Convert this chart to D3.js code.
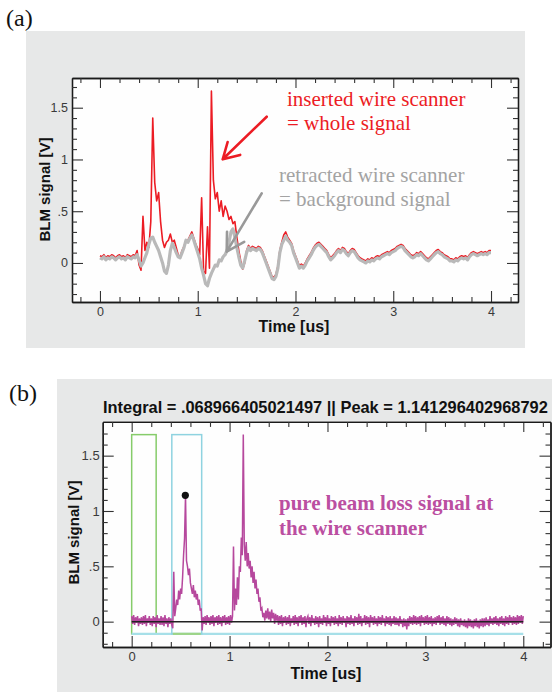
<!DOCTYPE html>
<html><head><meta charset="utf-8">
<script src="https://cdn.jsdelivr.net/npm/d3@7"></script>
<style>html,body{margin:0;padding:0;background:#fff;} svg{display:block;}</style>
</head><body><svg id="c" width="552" height="692"></svg>
<script>
// ---------------- DATA ----------------
// Panel (a): sampled every 0.02 us from 0 to 4 us
const aStep = 0.02;
const aWhole = [
 0.07,0.06,0.08,0.05,0.07, 0.06,0.08,0.07,0.05,0.07, 0.08,0.06,0.07,0.05,0.08, 0.07,0.06,0.08,0.07,0.12,
 -0.02,-0.07,0.45,0.12,0.2, 0.15,0.4,1.4,0.78,0.6, 0.68,0.4,0.22,0.15,0.2, 0.22,0.28,0.2,0.22,0.15,
 0.08,0.06,0.12,0.16,0.22, 0.22,0.26,0.3,0.24,0.18, 0.14,0.08,0.63,-0.08,-0.1, 0.35,-0.05,1.66,0.8,0.62,
 0.68,0.5,0.6,0.45,0.55, 0.5,0.42,0.45,0.38,0.4, 0.25,0.12,0.02,-0.06,0.0, 0.12,0.17,0.14,0.16,0.15,
 0.14,0.16,0.15,0.12,0.07, 0.02,-0.03,-0.08,-0.13,-0.14, -0.11,-0.03,0.12,0.2,0.27, 0.3,0.25,0.22,0.19,0.12,
 0.07,0.02,-0.03,-0.01,-0.03, 0.0,0.04,0.07,0.1,0.14, 0.17,0.19,0.2,0.18,0.16, 0.14,0.12,0.08,0.05,0.07,
 0.09,0.12,0.14,0.12,0.15, 0.14,0.11,0.09,0.12,0.14, 0.13,0.1,0.07,0.05,0.04, 0.03,0.02,0.04,0.03,0.05,
 0.04,0.06,0.07,0.06,0.08, 0.09,0.1,0.11,0.1,0.12, 0.13,0.14,0.16,0.17,0.18, 0.17,0.14,0.12,0.1,0.08,
 0.07,0.08,0.1,0.09,0.11, 0.09,0.07,0.05,0.04,0.06, 0.08,0.1,0.12,0.13,0.11, 0.1,0.08,0.07,0.06,0.04,
 0.04,0.03,0.05,0.04,0.06, 0.07,0.06,0.07,0.05,0.08, 0.1,0.11,0.1,0.09,0.1, 0.11,0.1,0.11,0.1,0.12,
 0.12
];
const aBackground = [
 0.05,0.04,0.06,0.03,0.05, 0.04,0.06,0.05,0.03,0.05, 0.06,0.04,0.05,0.03,0.06, 0.05,0.04,0.06,0.05,0.08,
 0.03,-0.03,0.0,0.05,0.1, 0.18,0.24,0.25,0.2,0.16, 0.12,0.06,0.0,-0.08,-0.1, -0.02,0.12,0.19,0.15,0.1,
 0.06,0.05,0.1,0.15,0.22, 0.2,0.24,0.27,0.22,0.16, 0.1,0.04,-0.05,-0.12,-0.2, -0.22,-0.15,-0.1,-0.06,-0.02,
 -0.03,0.03,0.02,0.06,0.08, 0.12,0.2,0.3,0.33,0.25, 0.15,0.06,-0.02,-0.05,0.02, 0.1,0.15,0.12,0.14,0.13,
 0.12,0.14,0.13,0.1,0.05, 0.0,-0.05,-0.1,-0.15,-0.16, -0.13,-0.05,0.1,0.18,0.22, 0.26,0.22,0.2,0.17,0.1,
 0.05,0.0,-0.05,-0.03,-0.05, -0.02,0.02,0.05,0.08,0.12, 0.15,0.17,0.18,0.16,0.14, 0.12,0.1,0.06,0.03,0.05,
 0.07,0.1,0.12,0.1,0.13, 0.12,0.09,0.07,0.1,0.12, 0.11,0.08,0.05,0.03,0.02, 0.01,0.0,0.02,0.01,0.03,
 0.02,0.04,0.05,0.04,0.06, 0.07,0.08,0.09,0.08,0.1, 0.11,0.12,0.14,0.15,0.16, 0.15,0.12,0.1,0.08,0.06,
 0.05,0.06,0.08,0.07,0.09, 0.07,0.05,0.03,0.02,0.04, 0.06,0.08,0.1,0.11,0.09, 0.08,0.06,0.05,0.04,0.02,
 0.02,0.01,0.03,0.02,0.04, 0.05,0.04,0.05,0.03,0.06, 0.08,0.09,0.08,0.07,0.08, 0.09,0.08,0.09,0.08,0.1,
 0.1
];
// Panel (b): pure beam loss signal, sampled every 0.01 us from 0 to 4 us
const bStep = 0.01;
const bPure = [
 0.05,-0.02,0.06,-0.03,0.04,-0.01,0.05,-0.04,0.03,-0.02,
 0.04,-0.03,0.05,-0.02,0.06,-0.04,0.03,-0.01,0.05,-0.03,
 0.03,-0.04,0.05,-0.02,0.04,-0.05,0.06,-0.02,0.03,-0.03,
 0.05,-0.03,0.04,-0.04,0.06,-0.02,0.03,-0.05,0.04,-0.02,
 0.03,-0.03,-0.06,0.45,0.05,0.12,0.2,0.15,0.28,0.2,
 0.3,0.25,0.4,0.6,0.75,1.14,0.55,0.5,0.42,0.48,
 0.35,0.3,0.25,0.33,0.22,0.28,0.2,0.25,0.15,0.2,
 0.1,0.12,-0.08,0.04,-0.02,0.05,-0.03,0.06,-0.01,0.04,
 -0.03,0.05,-0.02,0.06,-0.04,0.04,-0.01,0.05,-0.03,0.06,
 -0.02,0.04,-0.04,0.05,-0.01,0.06,-0.03,0.04,-0.02,0.05,
 -0.03,0.06,-0.01,0.05,0.68,0.1,0.3,0.15,0.4,0.2,
 0.5,0.45,0.76,0.6,1.69,0.7,0.55,0.72,0.5,0.62,
 0.48,0.55,0.4,0.5,0.35,0.45,0.3,0.38,0.25,0.3,
 0.18,0.22,0.1,0.12,0.04,0.08,0.01,0.1,0.03,0.12,
 0.02,0.09,0.0,0.11,0.03,0.08,-0.02,0.07,0.01,0.06,
 -0.03,0.05,-0.02,0.06,-0.04,0.04,-0.01,0.05,-0.03,0.04,
 -0.02,0.06,-0.04,0.03,-0.01,0.05,-0.03,0.06,-0.02,0.04,
 -0.04,0.05,-0.01,0.06,-0.03,0.04,-0.02,0.05,-0.05,0.03,
 0.05,-0.02,0.04,-0.04,0.06,-0.01,0.03,-0.03,0.05,-0.02,
 0.04,-0.05,0.05,-0.02,0.03,-0.03,0.06,-0.01,0.04,-0.04,
 0.06,-0.02,0.03,-0.04,0.05,-0.01,0.04,-0.03,0.05,-0.02,
 0.03,-0.04,0.06,-0.02,0.04,-0.03,0.05,-0.01,0.03,-0.05,
 0.05,-0.02,0.04,-0.03,0.06,-0.02,0.03,-0.04,0.05,-0.01,
 0.04,-0.03,0.07,-0.02,0.05,-0.04,0.03,-0.01,0.06,-0.03,
 0.05,-0.02,0.04,-0.05,0.06,-0.01,0.04,-0.03,0.05,-0.02,
 0.03,-0.04,0.05,-0.02,0.04,-0.03,0.06,-0.01,0.03,-0.04,
 0.05,-0.02,0.04,-0.03,0.05,-0.04,0.03,-0.02,0.05,-0.03,
 0.04,-0.03,0.03,-0.04,0.05,-0.02,0.02,-0.05,0.03,-0.04,
 0.02,-0.07,0.03,-0.04,0.05,-0.02,0.04,-0.03,0.06,-0.02,
 0.05,-0.03,0.04,-0.02,0.05,-0.04,0.06,-0.01,0.04,-0.03,
 0.05,-0.02,0.06,-0.03,0.04,-0.02,0.05,-0.04,0.03,-0.02,
 0.04,-0.03,0.05,-0.01,0.06,-0.03,0.04,-0.02,0.05,-0.03,
 0.03,-0.04,0.05,-0.02,0.04,-0.03,0.03,-0.04,0.02,-0.03,
 0.04,-0.02,0.03,-0.04,0.02,-0.05,0.03,-0.03,0.01,-0.04,
 0.02,-0.05,0.01,-0.06,0.03,-0.04,0.02,-0.05,0.01,-0.06,
 0.02,-0.04,0.03,-0.05,0.01,-0.06,0.02,-0.04,0.03,-0.05,
 0.03,-0.04,0.04,-0.03,0.02,-0.04,0.05,-0.02,0.03,-0.03,
 0.04,-0.02,0.05,-0.03,0.03,-0.04,0.04,-0.02,0.05,-0.03,
 0.03,-0.04,0.05,-0.02,0.04,-0.03,0.06,-0.01,0.04,-0.03,
 0.05,-0.02,0.04,-0.03,0.06,-0.02,0.05,-0.01,0.06,-0.02,
 0.05
];
const bPeakT = [0.548];
const bPeakV = [1.141296402968792];
const bGreenGate = [0, 0.25];
const bCyanGate = [0.41, 0.715];
const bGateLevels = [-0.11, 1.69];   // bottom, top
const bZeroSpan = [0, 4];
const xMajor = [0, 1, 2, 3, 4];
const xMinor = [-0.2,0.2,0.4,0.6,0.8,1.2,1.4,1.6,1.8,2.2,2.4,2.6,2.8,3.2,3.4,3.6,3.8,4.2];
const yMajor = [0, 0.5, 1, 1.5];
const yMinorA = [-0.3,-0.2,-0.1,0.1,0.2,0.3,0.4,0.6,0.7,0.8,0.9,1.1,1.2,1.3,1.4,1.6,1.7];
const yMinorB = [-0.2,-0.1,0.1,0.2,0.3,0.4,0.6,0.7,0.8,0.9,1.1,1.2,1.3,1.4,1.6,1.7];
const titleB = "Integral = .068966405021497 || Peak = 1.141296402968792";

// ---------------- DRAWING ----------------
const svg = d3.select("#c");
const SANS = "'Liberation Sans', Arial, Helvetica, sans-serif";
const SERIF = "'Liberation Serif', 'Times New Roman', serif";
const yFmt = d => d === 0 ? "0" : String(d).replace(/^0\./, ".");

function frame(g, x, y, yMinor, lblSize, yPad) {
  const [x0, x1] = x.range(), [yb, yt] = y.range();
  g.append("rect").attr("x", x0).attr("y", yt).attr("width", x1 - x0).attr("height", yb - yt).attr("fill", "#fefefe");
  const mk = (axis, tx, ty) => {
    const a = g.append("g").attr("transform", `translate(${tx},${ty})`).call(axis);
    a.select(".domain").attr("stroke", "#1a1a1a").attr("stroke-width", 1.3);
    a.selectAll(".tick line").attr("stroke", "#333").attr("stroke-width", 1.1);
    a.selectAll("text").attr("font-family", SANS).attr("font-size", lblSize).attr("fill", "#3a3a3a");
    return a;
  };
  mk(d3.axisBottom(x).tickValues(xMajor).tickSize(-11).tickSizeOuter(0).tickPadding(5).tickFormat(d3.format("d")), 0, yb);
  mk(d3.axisBottom(x).tickValues(xMinor).tickSize(-5).tickSizeOuter(0).tickFormat(""), 0, yb);
  mk(d3.axisTop(x).tickValues(xMajor).tickSize(-10).tickSizeOuter(0).tickFormat(""), 0, yt);
  mk(d3.axisTop(x).tickValues(xMinor).tickSize(-5).tickSizeOuter(0).tickFormat(""), 0, yt);
  mk(d3.axisLeft(y).tickValues(yMajor).tickSize(-11).tickSizeOuter(0).tickPadding(yPad).tickFormat(yFmt), x0, 0);
  mk(d3.axisLeft(y).tickValues(yMinor).tickSize(-5).tickSizeOuter(0).tickFormat(""), x0, 0);
  mk(d3.axisRight(y).tickValues(yMajor).tickSize(-11).tickSizeOuter(0).tickFormat(""), x1, 0);
  mk(d3.axisRight(y).tickValues(yMinor).tickSize(-5).tickSizeOuter(0).tickFormat(""), x1, 0);
}

function arrow(g, tail, tip, color, len) {
  const dx = tail[0] - tip[0], dy = tail[1] - tip[1], n = Math.hypot(dx, dy);
  const ux = dx / n, uy = dy / n, c = Math.cos(Math.PI / 6), s = Math.sin(Math.PI / 6);
  const w1 = [tip[0] + len * (ux * c - uy * s), tip[1] + len * (ux * s + uy * c)];
  const w2 = [tip[0] + len * (ux * c + uy * s), tip[1] + len * (-ux * s + uy * c)];
  g.append("path").attr("d", `M${tail}L${tip}M${w1}L${tip}L${w2}`)
    .attr("fill", "none").attr("stroke", color).attr("stroke-width", 2.6).attr("stroke-linecap", "round").attr("stroke-linejoin", "round");
}

// ----- Panel (a) -----
svg.append("text").attr("x", 6).attr("y", 26).attr("font-family", SERIF).attr("font-size", 24).attr("fill", "#111").text("(a)");
svg.append("rect").attr("x", 26).attr("y", 31).attr("width", 499).attr("height", 317).attr("fill", "#e7e8e8");
const gA = svg.append("g");
const xA = d3.scaleLinear().domain([-0.286, 4.276]).range([72, 518]);
const yA = d3.scaleLinear().domain([-0.377, 1.787]).range([302, 78]);
frame(gA, xA, yA, yMinorA, 12.5, 4);
const lineA = d3.line().x((d, i) => xA(i * aStep)).y(d => yA(d));
gA.append("path").datum(aWhole).attr("d", lineA).attr("fill", "none").attr("stroke", "#ec1c24").attr("stroke-width", 1.6).attr("stroke-linejoin", "round");
gA.append("path").datum(aBackground).attr("d", lineA).attr("fill", "none").attr("stroke", "#b9b9b9").attr("stroke-width", 3.2).attr("stroke-linejoin", "round");
gA.append("text").attr("transform", "translate(50,189.5) rotate(-90)").attr("text-anchor", "middle")
  .attr("font-family", SANS).attr("font-weight", "bold").attr("font-size", 15).attr("fill", "#111").text("BLM signal [V]");
gA.append("text").attr("x", 294).attr("y", 331.5).attr("text-anchor", "middle")
  .attr("font-family", SANS).attr("font-weight", "bold").attr("font-size", 16).attr("fill", "#111").text("Time [us]");
const tA = gA.append("g").attr("font-family", SERIF).attr("font-size", 21);
tA.append("text").attr("x", 287).attr("y", 106).attr("fill", "#ec1c24").text("inserted wire scanner");
tA.append("text").attr("x", 287).attr("y", 130).attr("fill", "#ec1c24").text("= whole signal");
tA.append("text").attr("x", 279).attr("y", 182).attr("fill", "#a3a3a3").text("retracted wire scanner");
tA.append("text").attr("x", 279).attr("y", 206).attr("fill", "#a3a3a3").text("= background signal");
arrow(gA, [266.7, 116.7], [222.7, 159.3], "#ec1c24", 18);
arrow(gA, [261.7, 193.3], [226.7, 251.7], "#999999", 20);

// ----- Panel (b) -----
svg.append("text").attr("x", 9).attr("y", 401).attr("font-family", SERIF).attr("font-size", 24).attr("fill", "#111").text("(b)");
svg.append("rect").attr("x", 57).attr("y", 379).attr("width", 495).attr("height", 313).attr("fill", "#e7e8e8");
const gB = svg.append("g");
const xB = d3.scaleLinear().domain([-0.296, 4.278]).range([102.7, 550.5]);
const yB = d3.scaleLinear().domain([-0.229, 1.805]).range([647, 421.9]);
frame(gB, xB, yB, yMinorB, 13, 3);
gB.append("text").attr("x", 103).attr("y", 412.7).attr("font-family", SANS).attr("font-weight", "bold")
  .attr("font-size", 16.4).attr("fill", "#111").text(titleB);
// gates
const [gBot, gTop] = bGateLevels;
gB.append("rect").attr("x", xB(bGreenGate[0])).attr("y", yB(gTop)).attr("width", xB(bGreenGate[1]) - xB(bGreenGate[0]))
  .attr("height", yB(gBot) - yB(gTop)).attr("fill", "none").attr("stroke", "#86cc6a").attr("stroke-width", 1.5);
gB.append("line").attr("x1", xB(bZeroSpan[0])).attr("x2", xB(bZeroSpan[1])).attr("y1", yB(gBot)).attr("y2", yB(gBot))
  .attr("stroke", "#a6dfe8").attr("stroke-width", 2.2);
gB.append("rect").attr("x", xB(bCyanGate[0])).attr("y", yB(gTop)).attr("width", xB(bCyanGate[1]) - xB(bCyanGate[0]))
  .attr("height", yB(gBot) - yB(gTop)).attr("fill", "none").attr("stroke", "#8fd3e0").attr("stroke-width", 1.5);
gB.append("line").attr("x1", xB(bCyanGate[0]) + 1).attr("x2", xB(bCyanGate[1]) - 1).attr("y1", yB(gBot)).attr("y2", yB(gBot))
  .attr("stroke", "#9ed486").attr("stroke-width", 2.2);
// signal
const lineB = d3.line().x((d, i) => xB(i * bStep)).y(d => yB(d));
gB.append("path").datum(bPure).attr("d", lineB).attr("fill", "none").attr("stroke", "#b6489d").attr("stroke-width", 1.5);
gB.append("line").attr("x1", xB(bZeroSpan[0])).attr("x2", xB(bZeroSpan[1])).attr("y1", yB(0)).attr("y2", yB(0))
  .attr("stroke", "#222").attr("stroke-width", 1.5);
gB.selectAll("circle.peak").data(bPeakT).join("circle").attr("class", "peak")
  .attr("cx", d => xB(d)).attr("cy", (d, i) => yB(bPeakV[i])).attr("r", 3.6).attr("fill", "#111");
gB.append("text").attr("transform", "translate(79,532.5) rotate(-90)").attr("text-anchor", "middle")
  .attr("font-family", SANS).attr("font-weight", "bold").attr("font-size", 15).attr("fill", "#111").text("BLM signal [V]");
gB.append("text").attr("x", 326).attr("y", 679.3).attr("text-anchor", "middle")
  .attr("font-family", SANS).attr("font-weight", "bold").attr("font-size", 16).attr("fill", "#111").text("Time [us]");
const tB = gB.append("g").attr("font-family", SERIF).attr("font-weight", "bold").attr("font-size", 21).attr("fill", "#bb4fa1");
tB.append("text").attr("x", 279).attr("y", 510).text("pure beam loss signal at");
tB.append("text").attr("x", 279).attr("y", 535).text("the wire scanner");
</script>
</body></html>
